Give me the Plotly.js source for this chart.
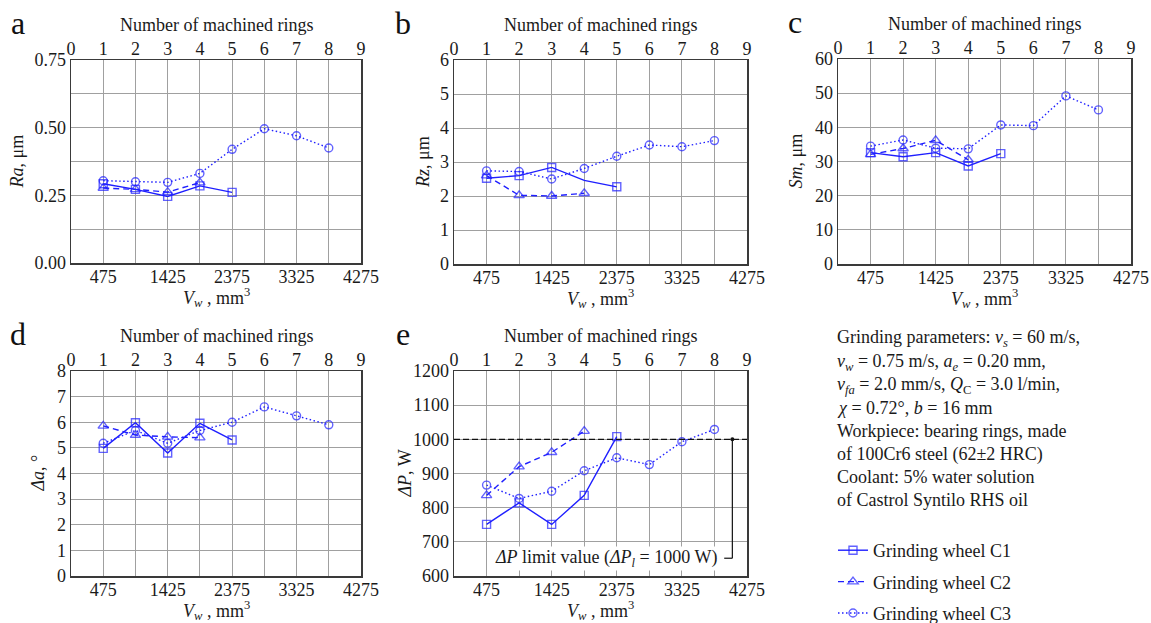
<!DOCTYPE html>
<html><head><meta charset="utf-8">
<script src="https://cdn.plot.ly/plotly-3.0.1.min.js"></script>
<style>html,body{margin:0;padding:0;background:#fff}#chart{width:1151px;height:623px}</style>
</head><body><div id="chart"></div>
<script>
// ---------- data ----------
const rings = [1, 2, 3, 4, 5, 6, 7, 8];            // number of machined rings
const vwTicks = [475, 1425, 2375, 3325, 4275];      // V_w tick labels, mm^3
const seriesNames = ['Grinding wheel C1', 'Grinding wheel C2', 'Grinding wheel C3'];

const raC1 = [0.293, 0.272, 0.246, 0.285, 0.261];
const raC2 = [0.277, 0.272, 0.262, 0.297];
const raC3 = [0.304, 0.300, 0.298, 0.331, 0.420, 0.496, 0.470, 0.425];

const rzC1 = [2.52, 2.60, 2.84, 2.46, 2.27];
const rzC2 = [2.60, 2.02, 2.00, 2.08];
const rzC3 = [2.74, 2.72, 2.50, 2.81, 3.17, 3.50, 3.45, 3.63];

const smC1 = [32.6, 31.4, 32.6, 28.7, 32.3];
const smC2 = [32.1, 33.8, 36.2, 30.5];
const smC3 = [34.5, 36.3, 33.9, 33.7, 40.7, 40.5, 49.2, 45.1];

const daC1 = [4.98, 5.98, 4.80, 5.96, 5.31];
const daC2 = [5.86, 5.50, 5.43, 5.40];
const daC3 = [5.18, 5.68, 5.18, 5.68, 6.00, 6.60, 6.25, 5.90];

const dpC1 = [751, 814, 751, 836, 1008];
const dpC2 = [836, 920, 962, 1024];
const dpC3 = [866, 827, 848, 908, 946, 926, 993, 1029];
const dpLimit = 1000;

const infoLines = [
  'Grinding parameters: <i>v<sub>s</sub></i> = 60 m/s,',
  '<i>v<sub>w</sub></i> = 0.75 m/s, <i>a<sub>e</sub></i> = 0.20 mm,',
  '<i>v<sub>fa</sub></i> = 2.0 mm/s, <i>Q</i><sub>C</sub> = 3.0 l/min,',
  '<i>χ</i> = 0.72°, <i>b</i> = 16 mm',
  'Workpiece: bearing rings, made',
  'of 100Cr6 steel (62±2 HRC)',
  'Coolant: 5% water solution',
  'of Castrol Syntilo RHS oil'
];

// ---------- layout helpers ----------
const W = 1151, H = 623;
const px = v => v / W;
const py = v => 1 - v / H;
const FONT = '"Liberation Serif", "Times New Roman", serif';
const FS = 18;
const TXT = '#1a1a1a';
const BLUE = '#1f1fff';
const GRID = '#a0a0a0';
const FRAME = '#3a3a3a';

const panels = [
  {letter: 'a', yTitle: '<i>Ra</i>, μm', range: [0, 0.75], dtick: 0.25, minor: 0.125, fmt: '.2f',
   s: [raC1, raC2, raC3], box: [71, 361, 60, 263], yTitleX: 16, letterX: 18, hideC1: []},
  {letter: 'b', yTitle: '<i>Rz</i>, μm', range: [0, 6], dtick: 1, fmt: '',
   s: [rzC1, rzC2, rzC3], box: [454, 747, 60, 264], yTitleX: 423, letterX: 403, hideC1: [3]},
  {letter: 'c', yTitle: '<i>Sm</i>, μm', range: [0, 60], dtick: 10, fmt: '',
   s: [smC1, smC2, smC3], box: [838, 1131, 59, 264], yTitleX: 795, letterX: 795, hideC1: []},
  {letter: 'd', yTitle: '<i>Δa</i>, °', range: [0, 8], dtick: 1, fmt: '',
   s: [daC1, daC2, daC3], box: [71, 361, 371, 576], yTitleX: 38, letterX: 18, hideC1: []},
  {letter: 'e', yTitle: '<i>ΔP</i>, W', range: [600, 1200], dtick: 100, fmt: '',
   s: [dpC1, dpC2, dpC3], box: [454, 747, 371, 576], yTitleX: 405, letterX: 403, hideC1: []}
];

const styles = [
  {dash: 'solid', symbol: 'square-open', size: 8},
  {dash: '6px,4px', symbol: 'triangle-up-open', size: 9},
  {dash: '1.5px,2.5px', symbol: 'circle-open', size: 8}
];

const tickfont = {family: FONT, size: FS, color: TXT};
const data = [];
const layout = {
  width: W, height: H,
  margin: {l: 0, r: 0, t: 0, b: 0, autoexpand: false},
  paper_bgcolor: '#fff', plot_bgcolor: '#fff',
  font: {family: FONT, size: FS, color: TXT},
  showlegend: true,
  legend: {x: px(833), xanchor: 'left', y: py(532), yanchor: 'top',
           font: {family: FONT, size: FS, color: TXT}, bgcolor: 'rgba(0,0,0,0)',
           tracegroupgap: 5, itemwidth: 30, traceorder: 'grouped'},
  annotations: [], shapes: []
};

const axName = n => (n === 1 ? '' : String(n));

panels.forEach((p, i) => {
  const k = i + 1;
  const xb = 2 * k - 1, xt = 2 * k;
  const xbRef = 'x' + axName(xb), xtRef = 'x' + axName(xt), yRef = 'y' + axName(k);
  const [L, R, T, B] = p.box;

  layout['xaxis' + axName(xb)] = {
    domain: [px(L), px(R)], anchor: yRef, range: [0, 4275],
    tickmode: 'array', tickvals: vwTicks, ticktext: vwTicks.map(String),
    showgrid: false, zeroline: false, showline: true, mirror: true,
    linecolor: FRAME, linewidth: 1.5, ticks: '', tickfont: tickfont, fixedrange: true,
    ticklabelstandoff: -3, automargin: false
  };
  layout['xaxis' + axName(xt)] = {
    overlaying: xbRef, side: 'top', anchor: yRef, range: [0, 9], dtick: 1, tick0: 0,
    showgrid: true, gridcolor: GRID, gridwidth: 1, zeroline: false, showline: false,
    ticks: '', tickfont: tickfont, fixedrange: true, automargin: false
  };
  const ya = {
    domain: [py(B), py(T)], anchor: xbRef, range: p.range, dtick: p.dtick, tick0: p.range[0],
    showgrid: true, gridcolor: GRID, gridwidth: 1, zeroline: false,
    showline: true, mirror: true, linecolor: FRAME, linewidth: 1.5,
    ticks: '', tickfont: tickfont, fixedrange: true, automargin: false
  };
  if (p.fmt) ya.tickformat = p.fmt;
  if (p.minor) ya.minor = {dtick: p.minor, showgrid: true, gridcolor: GRID, gridwidth: 1, ticks: ''};
  layout['yaxis' + axName(k)] = ya;

  // dummy trace so the bottom (V_w) axis subplot exists
  data.push({x: [null], y: [null], xaxis: xbRef, yaxis: yRef, mode: 'lines',
             showlegend: false, hoverinfo: 'skip'});

  p.s.forEach((vals, j) => {
    const st = styles[j];
    const sizes = vals.map((v, idx) => (j === 0 && p.hideC1.includes(idx)) ? 0 : st.size);
    data.push({
      x: rings.slice(0, vals.length), y: vals, xaxis: xtRef, yaxis: yRef,
      type: 'scatter', mode: 'lines+markers', name: seriesNames[j],
      legendgroup: 'g' + j, showlegend: i === 0,
      line: {color: BLUE, width: 1.4, dash: st.dash},
      marker: {symbol: st.symbol, size: sizes, color: BLUE, line: {color: BLUE, width: 1.4}},
      cliponaxis: false
    });
  });

  const cx = (L + R) / 2;
  layout.annotations.push({text: p.letter, xref: 'paper', yref: 'paper',
    x: px(p.letterX), y: py(T - 37), xanchor: 'center', yanchor: 'middle', showarrow: false,
    font: {family: FONT, size: 32, color: '#111'}});
  layout.annotations.push({text: 'Number of machined rings', xref: 'paper', yref: 'paper',
    x: px(cx), y: py(T - 35), xanchor: 'center', yanchor: 'middle', showarrow: false,
    font: {family: FONT, size: FS, color: TXT}});
  layout.annotations.push({text: '<i>V<sub>w</sub></i> , mm<sup>3</sup>', xref: 'paper', yref: 'paper',
    x: px(cx), y: py(B + 34), xanchor: 'center', yanchor: 'middle', showarrow: false,
    font: {family: FONT, size: FS, color: TXT}});
  layout.annotations.push({text: p.yTitle, xref: 'paper', yref: 'paper', textangle: -90,
    x: px(p.yTitleX), y: py((T + B) / 2), xanchor: 'center', yanchor: 'middle', showarrow: false,
    font: {family: FONT, size: FS, color: TXT}});

  if (p.letter === 'e') {
    layout.shapes.push({type: 'line', xref: xbRef + ' domain', yref: yRef, x0: 0, x1: 1,
      y0: dpLimit, y1: dpLimit, line: {color: '#111', width: 1.4, dash: '6px,3px'}});
    layout.shapes.push({type: 'line', xref: xtRef, yref: yRef, x0: 8.55, x1: 8.55,
      y0: dpLimit, y1: 652, line: {color: '#111', width: 1.2}});
    layout.shapes.push({type: 'line', xref: xtRef, yref: yRef, x0: 8.55, x1: 8.3,
      y0: 652, y1: 652, line: {color: '#111', width: 1.2}});
    layout.shapes.push({type: 'circle', xref: xtRef, yref: yRef, xsizemode: 'pixel', ysizemode: 'pixel',
      xanchor: 8.55, yanchor: dpLimit, x0: -2, x1: 2, y0: -2, y1: 2,
      fillcolor: '#111', line: {width: 0}});
    layout.annotations.push({text: '<i>ΔP</i> limit value (<i>ΔP<sub>l</sub></i> = 1000 W)',
      xref: xtRef, yref: yRef, x: 8.12, y: 652, xanchor: 'right', yanchor: 'middle',
      showarrow: false, bgcolor: '#fff', borderpad: 0,
      font: {family: FONT, size: FS, color: TXT}});
  }
});

infoLines.forEach((t, i) => {
  layout.annotations.push({text: t, xref: 'paper', yref: 'paper', x: px(835), y: py(339 + 23 * i),
    xanchor: 'left', yanchor: 'middle', align: 'left', showarrow: false,
    font: {family: FONT, size: FS, color: TXT}});
});

Plotly.newPlot('chart', data, layout, {displayModeBar: false, staticPlot: true});
</script>
</body></html>
